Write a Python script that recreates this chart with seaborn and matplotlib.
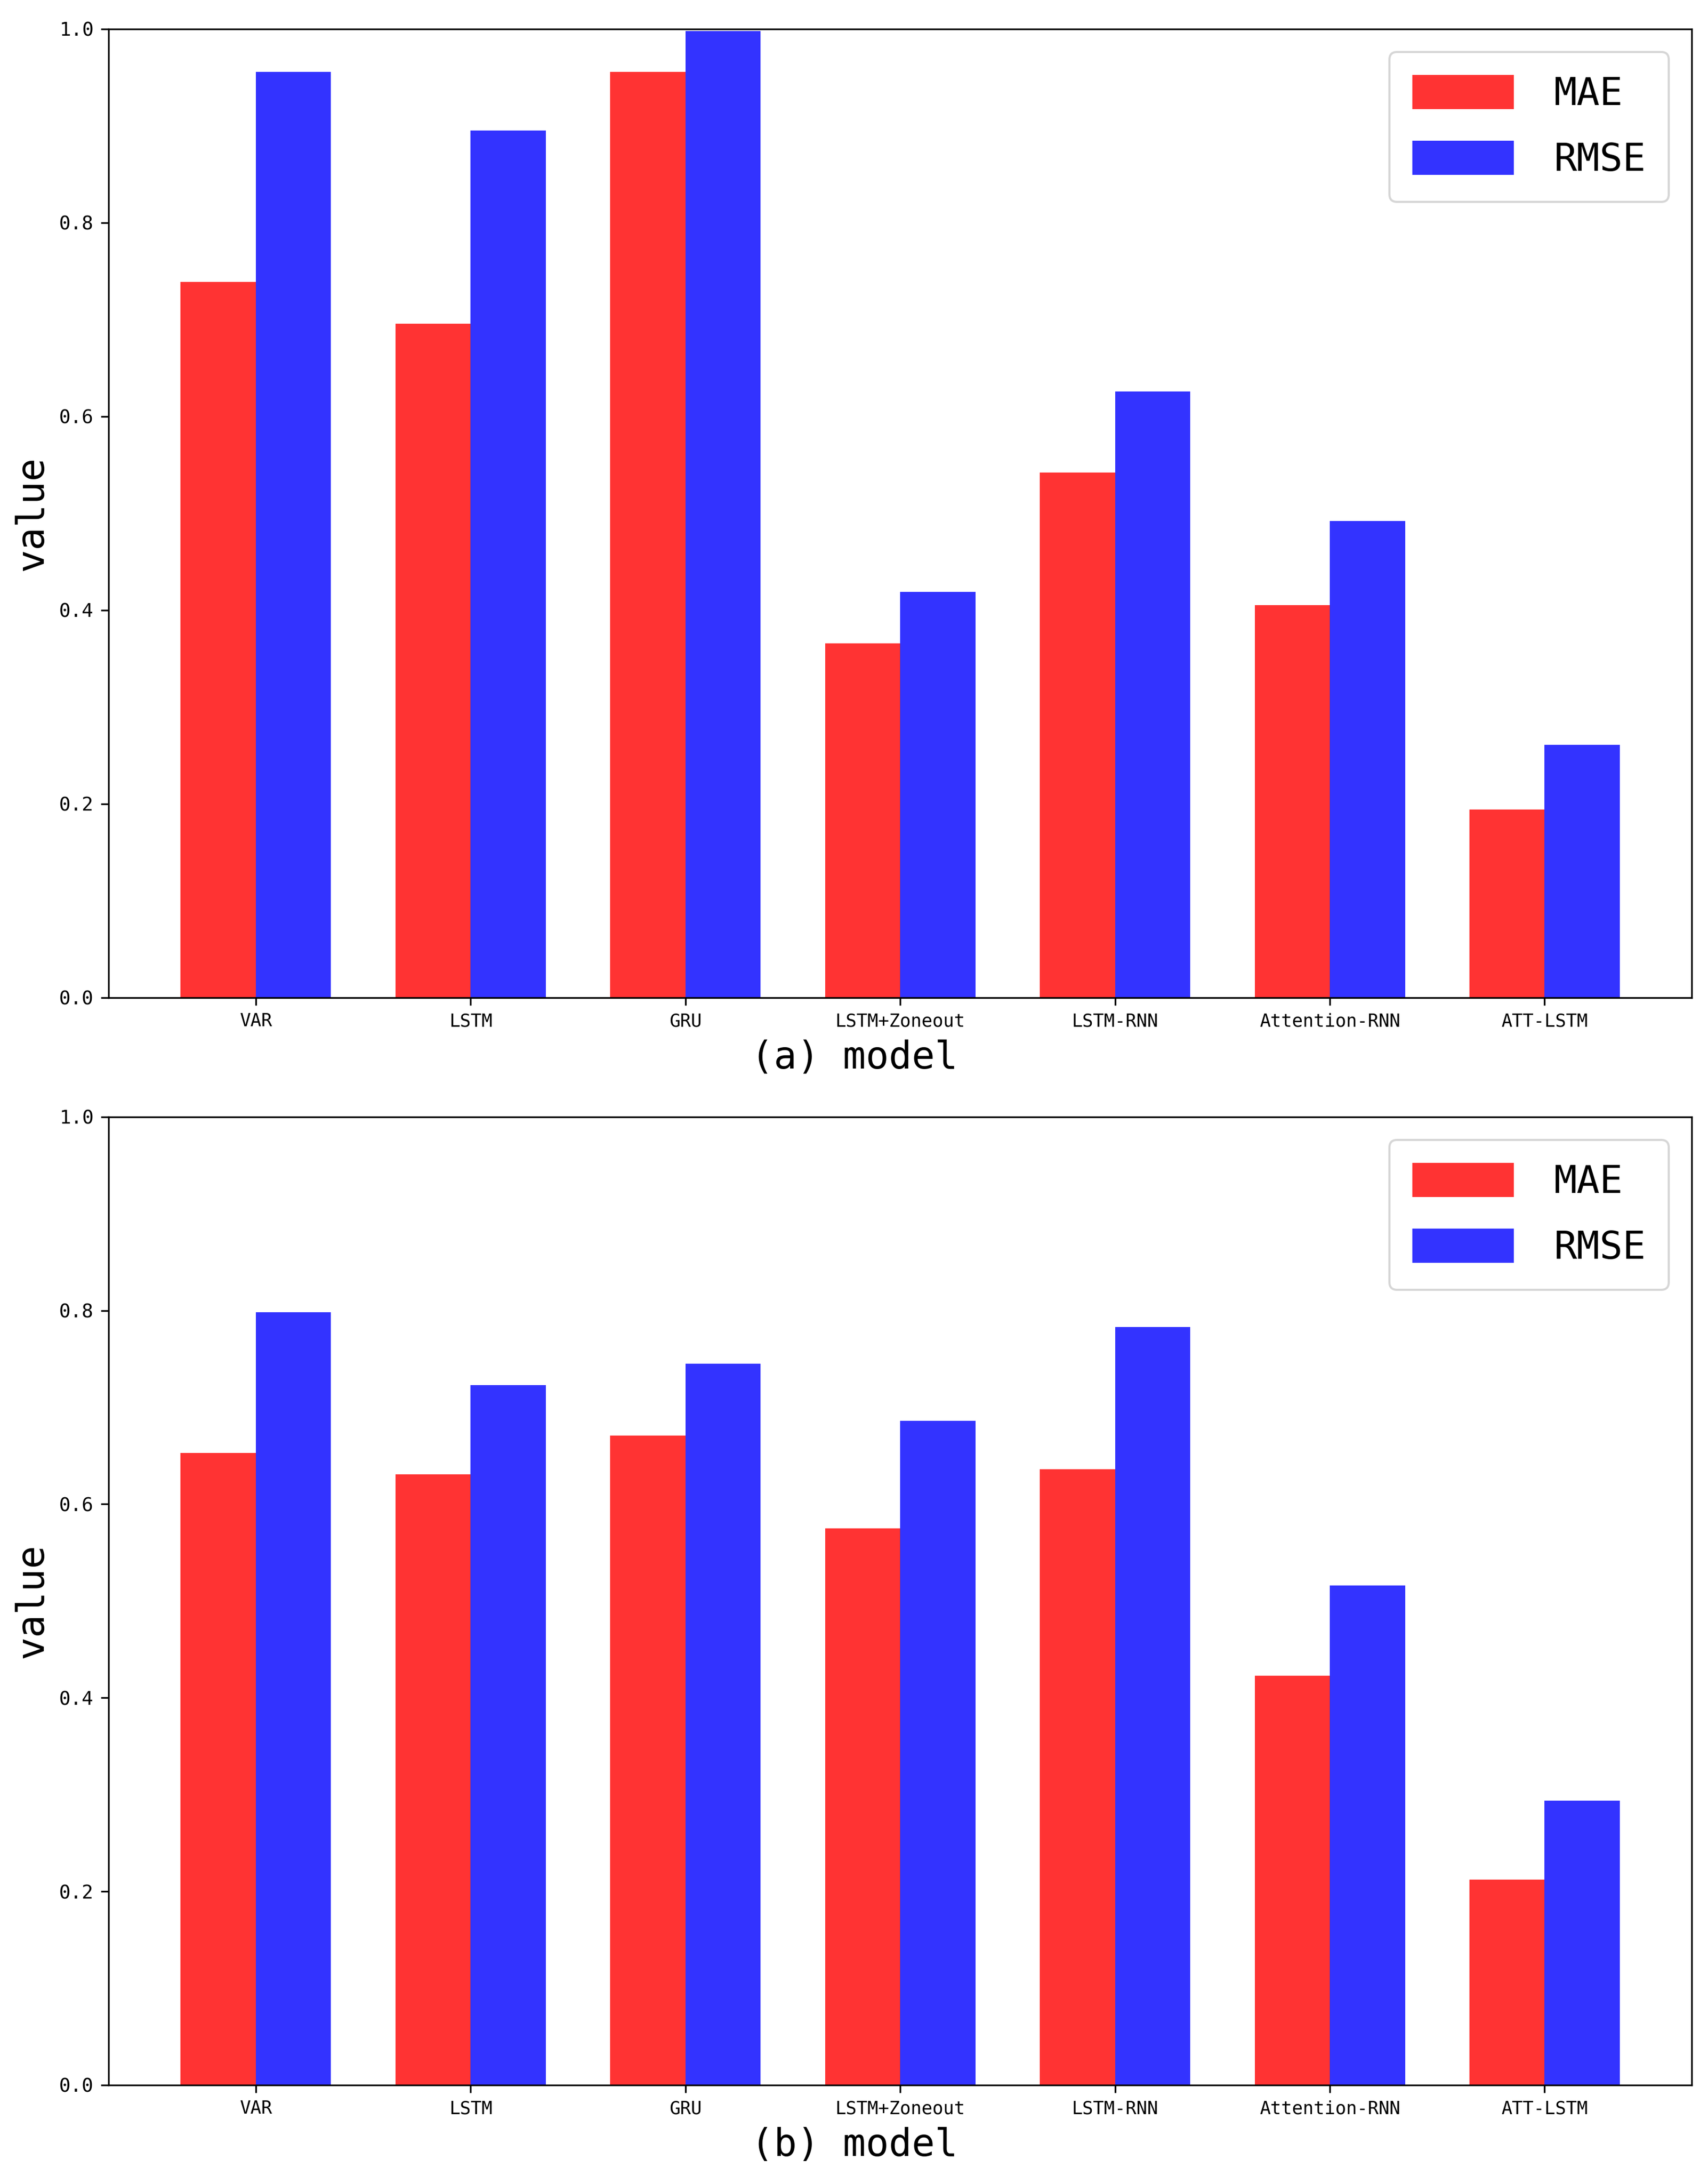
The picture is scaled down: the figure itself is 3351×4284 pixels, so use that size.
import matplotlib
matplotlib.use("Agg")
import matplotlib.pyplot as plt
import pandas as pd
import seaborn as sns

# models on the x axis
models = ["VAR", "LSTM", "GRU", "LSTM+Zoneout", "LSTM-RNN", "Attention-RNN", "ATT-LSTM"]
metrics = ["MAE", "RMSE"]

# panel (a)
mae_a = [0.739, 0.696, 0.956, 0.366, 0.542, 0.405, 0.194]
rmse_a = [0.956, 0.895, 0.998, 0.419, 0.626, 0.492, 0.261]

# panel (b)
mae_b = [0.653, 0.631, 0.671, 0.575, 0.636, 0.423, 0.212]
rmse_b = [0.798, 0.723, 0.745, 0.686, 0.783, 0.516, 0.294]

yticks = [0.0, 0.2, 0.4, 0.6, 0.8, 1.0]
panel_labels = ["(a) model", "(b) model"]

mono = ["DejaVu Sans Mono"]


def make_frame(mae, rmse):
    rows = []
    for m, a, r in zip(models, mae, rmse):
        rows.append({"model": m, "metric": "MAE", "value": a})
        rows.append({"model": m, "metric": "RMSE", "value": r})
    return pd.DataFrame(rows)


def draw_panel(ax, df, xlabel):
    sns.barplot(data=df, x="model", y="value", hue="metric", hue_order=metrics,
                palette={"MAE": "red", "RMSE": "blue"}, alpha=0.8, saturation=1,
                width=0.7, linewidth=0, errorbar=None, ax=ax)
    ax.set_xlim(-0.685, 6.685)
    ax.set_ylim(0, 1.0)
    ax.set_yticks(yticks)
    ax.set_yticklabels(["%.1f" % t for t in yticks], fontsize=9, family=mono)
    ax.set_xticks(range(len(models)))
    ax.set_xticklabels(models, fontsize=8.5, family=mono)
    ax.set_xlabel(xlabel, fontsize=18, family=mono)
    ax.xaxis.set_label_coords(0.471, -0.043)
    ax.set_ylabel("value", fontsize=18, family=mono, labelpad=4)
    handles, labels = ax.get_legend_handles_labels()
    ax.legend(handles, labels, loc="upper right", prop={"family": mono, "size": 18},
              handlelength=2.65, handleheight=1.0, handletextpad=1.05,
              labelspacing=0.72, borderaxespad=0.6, borderpad=0.6)
    for s in ax.spines.values():
        s.set_visible(True)


fig = plt.figure(figsize=(3351 / 300, 4284 / 300), dpi=300)
ax1 = fig.add_axes([0.0636, 0.5432, 0.9905 - 0.0636, 0.9867 - 0.5432])
ax2 = fig.add_axes([0.0636, 0.0453, 0.9905 - 0.0636, 0.4886 - 0.0453])

draw_panel(ax1, make_frame(mae_a, rmse_a), panel_labels[0])
draw_panel(ax2, make_frame(mae_b, rmse_b), panel_labels[1])

fig.savefig("out.png", dpi=300)
